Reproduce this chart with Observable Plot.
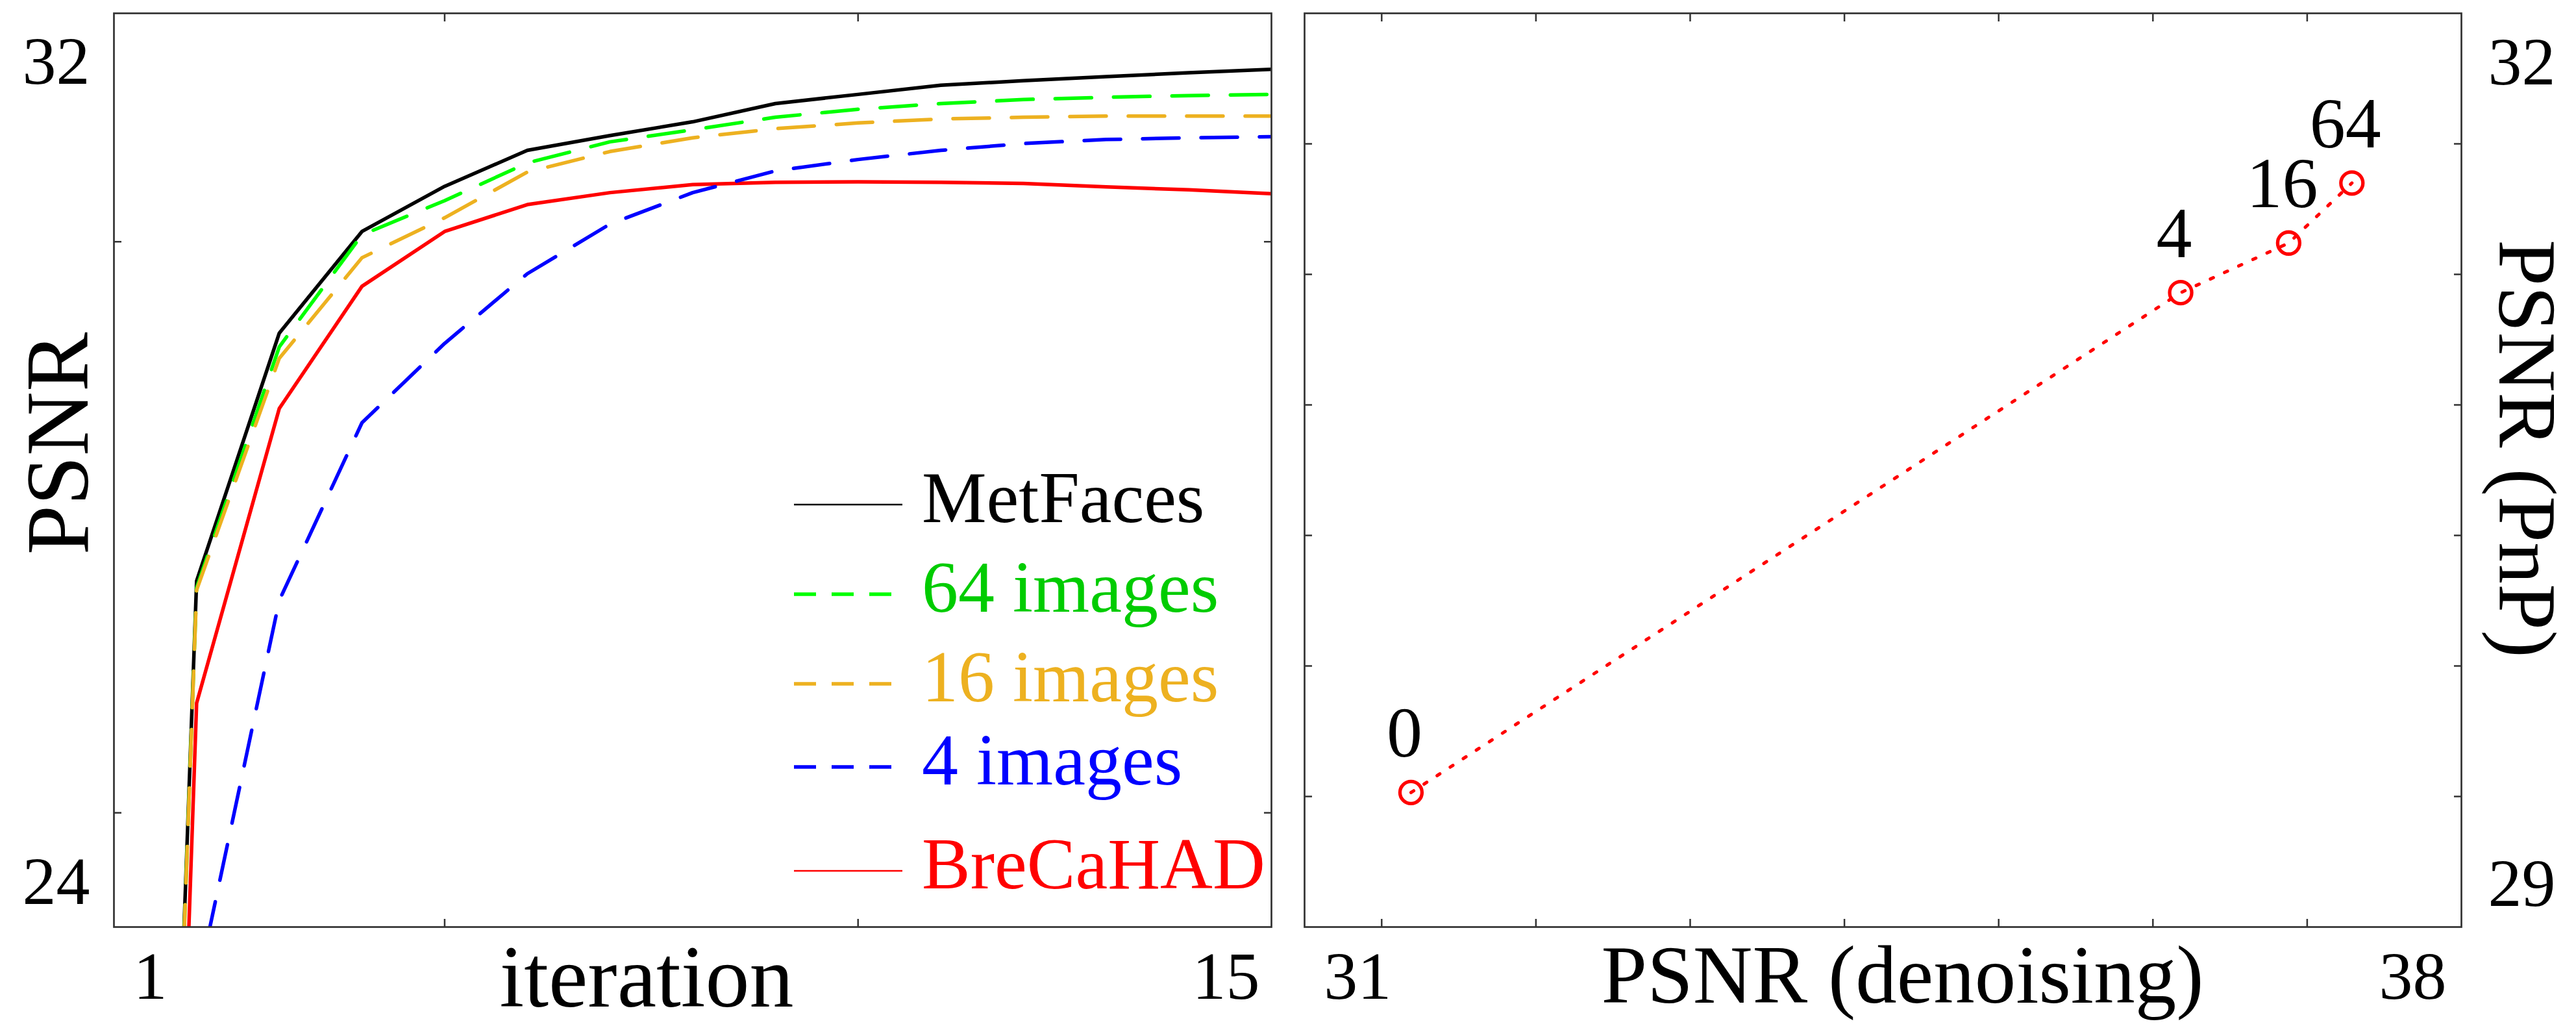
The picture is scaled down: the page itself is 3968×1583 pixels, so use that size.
<!DOCTYPE html>
<html><head><meta charset="utf-8">
<script src="https://cdn.jsdelivr.net/npm/d3@7"></script>
<script src="https://cdn.jsdelivr.net/npm/@observablehq/plot@0.6"></script>
<style>
html,body{margin:0;padding:0;background:#fff;}
#wrap{position:relative;width:3968px;height:1583px;overflow:hidden;background:#fff;font-family:"Liberation Serif",serif;}
#wrap > svg{position:absolute;top:0;}
</style></head><body><div id="wrap"></div>
<script>
// ---------- data: left panel (PSNR vs iteration) ----------
const iterations = [1, 2, 3, 4, 5, 6, 7, 8, 9, 10, 11, 12, 13, 14, 15];
const metfaces  = [7.1, 27.03, 29.20, 30.09, 30.485, 30.80, 30.93, 31.05, 31.21, 31.29, 31.37, 31.41, 31.445, 31.48, 31.51];
const images64  = [7.0, 26.97, 29.08, 30.06, 30.36, 30.69, 30.875, 30.98, 31.09, 31.16, 31.21, 31.245, 31.265, 31.28, 31.29];
const images16  = [7.0, 26.95, 28.98, 29.86, 30.21, 30.61, 30.79, 30.91, 30.99, 31.04, 31.075, 31.09, 31.10, 31.10, 31.10];
const images4   = [5.0, 23.45, 26.86, 28.415, 29.11, 29.72, 30.155, 30.43, 30.62, 30.72, 30.80, 30.86, 30.895, 30.91, 30.92];
const brecahad  = [5.0, 25.96, 28.54, 29.61, 30.09, 30.325, 30.43, 30.50, 30.52, 30.525, 30.52, 30.51, 30.48, 30.455, 30.42];
const seriesNames  = ["MetFaces", "64 images", "16 images", "4 images", "BreCaHAD"];
const seriesValues = [metfaces, images64, images16, images4, brecahad];
const lineColors   = ["#000000", "#00ff00", "#edb120", "#0000ff", "#ff0000"];
const textColors   = ["#000000", "#00cc00", "#edb120", "#0000ff", "#ff0000"];
const dashed       = [false, true, true, true, false];
const drawOrder    = [0, 1, 2, 4, 3];
const leftXTicks = [5, 10];
const leftYTicks = [25, 30];
const leftXLabels = [1, 15];
const leftYLabels = [24, 32];

// ---------- data: right panel (PnP vs denoising PSNR) ----------
const trainSizes  = ["0", "4", "16", "64"];
const psnrDenoise = [31.19, 36.18, 36.88, 37.29];
const psnrPnP     = [29.015, 30.93, 31.12, 31.35];
const rightXTicks = [31, 32, 33, 34, 35, 36, 37];
const rightYTicks = [29, 29.5, 30, 30.5, 31, 31.5];
const rightXLabels = [31, 38];
const rightYLabels = [29, 32];

// ---------- style ----------
const AX = "#333333";
const FONT = "Liberation Serif";
const wrap = document.getElementById("wrap");

function boxTicks(xt, yt) {
  const o = {tickSize: -12, fill: "none", stroke: AX, strokeWidth: 2.5, label: null};
  return [
    Plot.axisX(xt, {...o, anchor: "bottom"}),
    Plot.axisX(xt, {...o, anchor: "top"}),
    Plot.axisY(yt, {...o, anchor: "left"}),
    Plot.axisY(yt, {...o, anchor: "right"})
  ];
}
const lab = {tickSize: 0, fontSize: 104, fill: "#000", label: null, tickFormat: d => String(d)};

// ---------- left plot ----------
const leftRows = [];
seriesNames.forEach((s, k) => iterations.forEach((it, i) => leftRows.push({series: s, k, iter: it, psnr: seriesValues[k][i]})));

const leftLines = drawOrder.map(k => Plot.line(leftRows.filter(d => d.k === k), {
  x: "iter", y: "psnr", stroke: lineColors[k], strokeWidth: 5.5,
  strokeDasharray: dashed[k] ? "56 34" : null, clip: true
}));

const leftPlot = Plot.plot({
  width: 1990, height: 1583,
  marginLeft: 175, marginRight: 32, marginTop: 20, marginBottom: 156,
  x: {domain: [1, 15]},
  y: {domain: [24, 32]},
  style: {fontFamily: FONT, background: "transparent", color: AX},
  marks: [
    ...leftLines,
    Plot.frame({stroke: AX, strokeWidth: 2.7}),
    ...boxTicks(leftXTicks, leftYTicks),
    Plot.axisX([leftXLabels[0]], {...lab, anchor: "bottom", tickPadding: 37, dx: 56}),
    Plot.axisX([leftXLabels[1]], {...lab, anchor: "bottom", tickPadding: 37, dx: -70}),
    Plot.axisY([leftYLabels[0]], {...lab, anchor: "left", tickPadding: 37, dy: -69}),
    Plot.axisY([leftYLabels[1]], {...lab, anchor: "left", tickPadding: 37, dy: 75}),
    Plot.text(["iteration"], {frameAnchor: "bottom", textAnchor: "middle", lineAnchor: "bottom", dx: -71, dy: 122, fontSize: 136, fill: "#000"}),
    Plot.text(["PSNR"], {frameAnchor: "left", textAnchor: "middle", lineAnchor: "bottom", rotate: -90, dx: -41, dy: -41, fontSize: 137, fill: "#000"})
  ]
});
leftPlot.style.left = "0px";
wrap.appendChild(leftPlot);

// ---------- right plot ----------
const rightRows = trainSizes.map((t, i) => ({n: t, x: psnrDenoise[i], y: psnrPnP[i]}));
const rightPlot = Plot.plot({
  width: 1978, height: 1583,
  marginLeft: 19, marginRight: 177, marginTop: 20, marginBottom: 156,
  x: {domain: [30.5, 38]},
  y: {domain: [28.5, 32]},
  style: {fontFamily: FONT, background: "transparent", color: AX},
  marks: [
    Plot.line(rightRows, {x: "x", y: "y", stroke: "#ff0000", strokeWidth: 5, strokeDasharray: "5 19"}),
    Plot.dot(rightRows, {x: "x", y: "y", r: 17, stroke: "#ff0000", strokeWidth: 5.3, fill: "none"}),
    Plot.text(rightRows, {x: "x", y: "y", text: "n", lineAnchor: "bottom", dx: -10, dy: -55, fontSize: 110, fill: "#000"}),
    Plot.frame({stroke: AX, strokeWidth: 2.7}),
    ...boxTicks(rightXTicks, rightYTicks),
    Plot.axisX([rightXLabels[0]], {...lab, anchor: "bottom", tickPadding: 37, dx: -37}),
    Plot.axisX([rightXLabels[1]], {...lab, anchor: "bottom", tickPadding: 37, dx: -75}),
    Plot.axisY([rightYLabels[0]], {...lab, anchor: "right", tickPadding: 41, dy: 135}),
    Plot.axisY([rightYLabels[1]], {...lab, anchor: "right", tickPadding: 41, dy: 76}),
    Plot.text(["PSNR (denoising)"], {frameAnchor: "bottom", textAnchor: "middle", lineAnchor: "bottom", dx: 30, dy: 116, fontSize: 127, fill: "#000"}),
    Plot.text(["PSNR (PnP)"], {frameAnchor: "right", textAnchor: "middle", lineAnchor: "bottom", rotate: 90, dx: 58, dy: -33, fontSize: 128, fill: "#000"})
  ]
});
rightPlot.style.left = "1990px";
wrap.appendChild(rightPlot);

// ---------- legend (inside left panel) ----------
const legendBaselines = [804, 942, 1080, 1208, 1368];
const leg = d3.select(wrap).append("svg")
  .attr("width", 3968).attr("height", 1583)
  .style("left", "0px").style("pointer-events", "none");
seriesNames.forEach((name, k) => {
  const yb = legendBaselines[k];
  leg.append("line")
    .attr("x1", 1223).attr("x2", dashed[k] ? 1373 : 1390)
    .attr("y1", yb - 27).attr("y2", yb - 27)
    .attr("stroke", lineColors[k])
    .attr("stroke-width", dashed[k] ? 5.5 : 2.5)
    .attr("stroke-dasharray", dashed[k] ? "34 24" : null);
  leg.append("text")
    .attr("x", 1420).attr("y", yb)
    .attr("font-family", FONT).attr("font-size", 112)
    .attr("fill", textColors[k])
    .text(name);
});
</script></body></html>
